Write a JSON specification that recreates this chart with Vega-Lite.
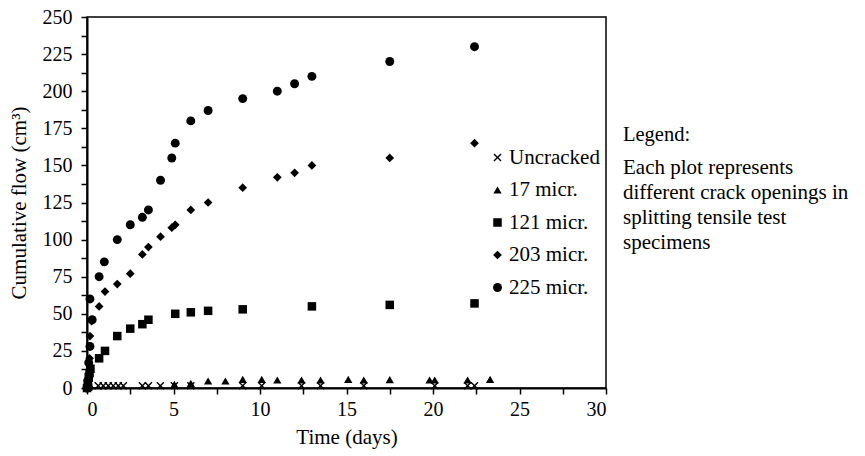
{
  "$schema": "https://vega.github.io/schema/vega-lite/v6.json",
  "width": 519,
  "height": 371,
  "autosize": {"type": "none"},
  "padding": {"left": 87, "top": 17, "right": 259, "bottom": 68},
  "background": "white",
  "title": {
    "text": "Legend:",
    "subtitle": ["Each plot represents", "different crack openings in", "splitting tensile test", "specimens"],
    "orient": "top",
    "anchor": "start",
    "frame": "group",
    "dx": 536,
    "dy": 250,
    "font": "Liberation Serif",
    "fontSize": 20.5,
    "fontWeight": "normal",
    "color": "black",
    "subtitleFont": "Liberation Serif",
    "subtitleFontSize": 21,
    "subtitleColor": "black",
    "subtitleLineHeight": 25,
    "subtitlePadding": 12
  },
  "config": {
    "view": {"stroke": "black", "strokeWidth": 1.5},
    "axis": {
      "grid": false,
      "domainColor": "black",
      "domainWidth": 2,
      "tickColor": "black",
      "tickWidth": 1.5,
      "tickSize": 6,
      "labelFont": "Liberation Serif",
      "labelFontSize": 20,
      "labelColor": "black",
      "titleFont": "Liberation Serif",
      "titleFontSize": 21,
      "titleFontWeight": "normal",
      "titleColor": "black"
    },
    "legend": {
      "labelFont": "Liberation Serif",
      "labelFontSize": 21,
      "labelColor": "black",
      "labelOffset": 1,
      "symbolFillColor": "black",
      "symbolStrokeWidth": 0,
      "symbolOpacity": 1,
      "rowPadding": 10.5,
      "padding": 0
    }
  },
  "data": {
    "values": [
      {"t": 0, "v": 0, "s": "Uncracked"},
      {"t": 0.1, "v": 0.5, "s": "Uncracked"},
      {"t": 0.65, "v": 1.5, "s": "Uncracked"},
      {"t": 0.94, "v": 1.5, "s": "Uncracked"},
      {"t": 1.23, "v": 1.5, "s": "Uncracked"},
      {"t": 1.52, "v": 1.5, "s": "Uncracked"},
      {"t": 1.81, "v": 1.5, "s": "Uncracked"},
      {"t": 2.1, "v": 1.5, "s": "Uncracked"},
      {"t": 3.2, "v": 1.5, "s": "Uncracked"},
      {"t": 3.55, "v": 1.5, "s": "Uncracked"},
      {"t": 4.24, "v": 1.5, "s": "Uncracked"},
      {"t": 5.05, "v": 1.5, "s": "Uncracked"},
      {"t": 6.0, "v": 1.5, "s": "Uncracked"},
      {"t": 9.0, "v": 1.5, "s": "Uncracked"},
      {"t": 10.1, "v": 1.5, "s": "Uncracked"},
      {"t": 12.4, "v": 1.5, "s": "Uncracked"},
      {"t": 13.5, "v": 1.5, "s": "Uncracked"},
      {"t": 16.0, "v": 1.5, "s": "Uncracked"},
      {"t": 20.1, "v": 1.5, "s": "Uncracked"},
      {"t": 22.0, "v": 1.5, "s": "Uncracked"},
      {"t": 22.4, "v": 1.5, "s": "Uncracked"},
      {"t": 0, "v": 0, "s": "17 micr."},
      {"t": 0.1, "v": 1, "s": "17 micr."},
      {"t": 0.2, "v": 1.5, "s": "17 micr."},
      {"t": 5.05, "v": 2.5, "s": "17 micr."},
      {"t": 6.0, "v": 3.1, "s": "17 micr."},
      {"t": 7.0, "v": 4.7, "s": "17 micr."},
      {"t": 8.0, "v": 4.7, "s": "17 micr."},
      {"t": 9.0, "v": 5.8, "s": "17 micr."},
      {"t": 10.1, "v": 5.8, "s": "17 micr."},
      {"t": 11.0, "v": 5.4, "s": "17 micr."},
      {"t": 12.4, "v": 5.4, "s": "17 micr."},
      {"t": 13.5, "v": 5.4, "s": "17 micr."},
      {"t": 15.1, "v": 5.8, "s": "17 micr."},
      {"t": 16.0, "v": 5.4, "s": "17 micr."},
      {"t": 17.5, "v": 5.6, "s": "17 micr."},
      {"t": 19.8, "v": 5.4, "s": "17 micr."},
      {"t": 20.1, "v": 5.4, "s": "17 micr."},
      {"t": 22.0, "v": 5.4, "s": "17 micr."},
      {"t": 23.3, "v": 5.8, "s": "17 micr."},
      {"t": 0, "v": 0, "s": "121 micr."},
      {"t": 0.05, "v": 3, "s": "121 micr."},
      {"t": 0.1, "v": 7, "s": "121 micr."},
      {"t": 0.15, "v": 10, "s": "121 micr."},
      {"t": 0.2, "v": 13, "s": "121 micr."},
      {"t": 0.7, "v": 20, "s": "121 micr."},
      {"t": 1.04, "v": 25, "s": "121 micr."},
      {"t": 1.75, "v": 35, "s": "121 micr."},
      {"t": 2.5, "v": 40, "s": "121 micr."},
      {"t": 3.2, "v": 43, "s": "121 micr."},
      {"t": 3.55, "v": 46, "s": "121 micr."},
      {"t": 5.1, "v": 50, "s": "121 micr."},
      {"t": 6.0, "v": 51, "s": "121 micr."},
      {"t": 7.0, "v": 52, "s": "121 micr."},
      {"t": 9.0, "v": 53, "s": "121 micr."},
      {"t": 13.0, "v": 55, "s": "121 micr."},
      {"t": 17.5, "v": 56, "s": "121 micr."},
      {"t": 22.4, "v": 57, "s": "121 micr."},
      {"t": 0, "v": 0, "s": "203 micr."},
      {"t": 0.05, "v": 4, "s": "203 micr."},
      {"t": 0.1, "v": 10, "s": "203 micr."},
      {"t": 0.15, "v": 20, "s": "203 micr."},
      {"t": 0.17, "v": 35, "s": "203 micr."},
      {"t": 0.27, "v": 45, "s": "203 micr."},
      {"t": 0.7, "v": 55, "s": "203 micr."},
      {"t": 1.04, "v": 65, "s": "203 micr."},
      {"t": 1.75, "v": 70, "s": "203 micr."},
      {"t": 2.5, "v": 77, "s": "203 micr."},
      {"t": 3.2, "v": 90, "s": "203 micr."},
      {"t": 3.55, "v": 95, "s": "203 micr."},
      {"t": 4.25, "v": 102, "s": "203 micr."},
      {"t": 4.9, "v": 108, "s": "203 micr."},
      {"t": 5.1, "v": 110, "s": "203 micr."},
      {"t": 6.0, "v": 120, "s": "203 micr."},
      {"t": 7.0, "v": 125, "s": "203 micr."},
      {"t": 9.0, "v": 135, "s": "203 micr."},
      {"t": 11.0, "v": 142, "s": "203 micr."},
      {"t": 12.0, "v": 145, "s": "203 micr."},
      {"t": 13.0, "v": 150, "s": "203 micr."},
      {"t": 17.5, "v": 155, "s": "203 micr."},
      {"t": 22.4, "v": 165, "s": "203 micr."},
      {"t": 0, "v": 0, "s": "225 micr."},
      {"t": 0.05, "v": 5, "s": "225 micr."},
      {"t": 0.1, "v": 17, "s": "225 micr."},
      {"t": 0.17, "v": 28, "s": "225 micr."},
      {"t": 0.17, "v": 60, "s": "225 micr."},
      {"t": 0.3, "v": 46, "s": "225 micr."},
      {"t": 0.7, "v": 75, "s": "225 micr."},
      {"t": 1.0, "v": 85, "s": "225 micr."},
      {"t": 1.75, "v": 100, "s": "225 micr."},
      {"t": 2.5, "v": 110, "s": "225 micr."},
      {"t": 3.2, "v": 115, "s": "225 micr."},
      {"t": 3.55, "v": 120, "s": "225 micr."},
      {"t": 4.25, "v": 140, "s": "225 micr."},
      {"t": 4.9, "v": 155, "s": "225 micr."},
      {"t": 5.1, "v": 165, "s": "225 micr."},
      {"t": 6.0, "v": 180, "s": "225 micr."},
      {"t": 7.0, "v": 187, "s": "225 micr."},
      {"t": 9.0, "v": 195, "s": "225 micr."},
      {"t": 11.0, "v": 200, "s": "225 micr."},
      {"t": 12.0, "v": 205, "s": "225 micr."},
      {"t": 13.0, "v": 210, "s": "225 micr."},
      {"t": 17.5, "v": 220, "s": "225 micr."},
      {"t": 22.4, "v": 230, "s": "225 micr."}
    ]
  },
  "mark": {"type": "point", "filled": true, "color": "black", "opacity": 1, "strokeWidth": 0},
  "encoding": {
    "x": {
      "field": "t",
      "type": "quantitative",
      "scale": {"domain": [0, 30], "nice": false},
      "axis": {
        "title": "Time (days)",
        "values": [0, 2.5, 5, 7.5, 10, 12.5, 15, 17.5, 20, 22.5, 25, 27.5, 30],
        "labelExpr": "datum.value % 5 === 0 ? datum.label : ''",
        "labelPadding": 5,
        "titlePadding": 7
      }
    },
    "y": {
      "field": "v",
      "type": "quantitative",
      "scale": {"domain": [0, 250], "nice": false},
      "axis": {
        "title": "Cumulative flow (cm³)",
        "values": [0, 12.5, 25, 37.5, 50, 62.5, 75, 87.5, 100, 112.5, 125, 137.5, 150, 162.5, 175, 187.5, 200, 212.5, 225, 237.5, 250],
        "labelExpr": "datum.value % 25 === 0 ? datum.label : ''",
        "labelPadding": 9,
        "titlePadding": 13
      }
    },
    "shape": {
      "field": "s",
      "type": "nominal",
      "scale": {
        "domain": ["Uncracked", "17 micr.", "121 micr.", "203 micr.", "225 micr."],
        "range": ["M-1,-0.75L-0.75,-1L0,-0.25L0.75,-1L1,-0.75L0.25,0L1,0.75L0.75,1L0,0.25L-0.75,1L-1,0.75L-0.25,0Z", "triangle-up", "square", "diamond", "circle"]
      },
      "legend": {"title": null, "orient": "none", "legendX": 400, "legendY": 130}
    },
    "size": {
      "field": "s",
      "type": "nominal",
      "scale": {
        "domain": ["Uncracked", "17 micr.", "121 micr.", "203 micr.", "225 micr."],
        "range": [65, 80, 100, 70, 110]
      },
      "legend": {"title": null, "orient": "none", "legendX": 400, "legendY": 130}
    }
  }
}
